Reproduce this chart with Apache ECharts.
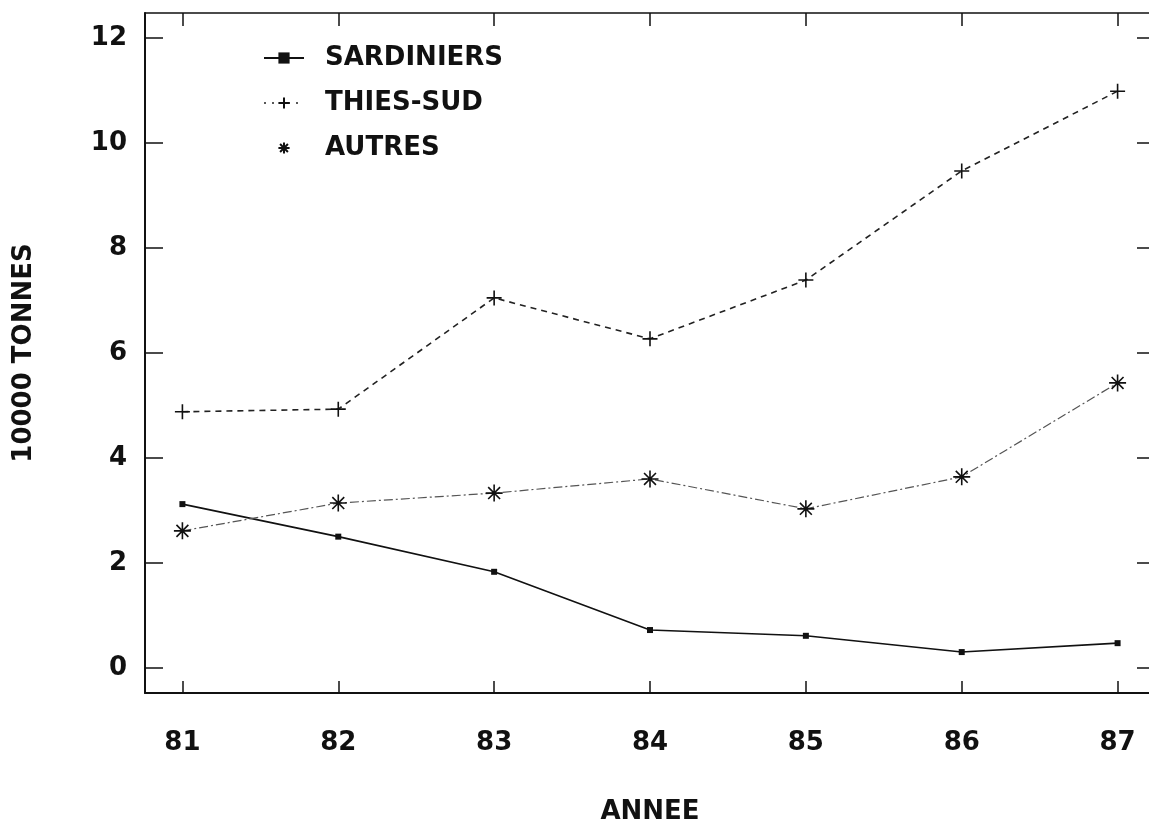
<!DOCTYPE html>
<html>
<head>
<meta charset="utf-8">
<style>
  html, body { margin: 0; padding: 0; background: #fff; }
  #chart { width: 1149px; height: 825px; }
</style>
<script src="https://cdn.jsdelivr.net/npm/echarts@6/dist/echarts.min.js"></script>
</head>
<body>
<div id="chart"></div>
<script>
// years (x axis) and series values, in 10000 tonnes
var years = [81, 82, 83, 84, 85, 86, 87]
var sardiniers = [3.12, 2.50, 1.83, 0.72, 0.61, 0.30, 0.47]
var thiesSud = [4.88, 4.93, 7.05, 6.27, 7.39, 9.47, 10.99]
var autres = [2.61, 3.14, 3.33, 3.60, 3.03, 3.64, 5.43]
var yTicks = [0, 2, 4, 6, 8, 10, 12]

var font = 'DejaVu Sans'
var plusPath = 'path://M10,0L10,20M0,10L20,10'
var starPath = 'path://M10,0L10,20M0,10L20,10M3,3L17,17M17,3L3,17'

function pairs(vals) {
  return years.map(function (y, i) { return [y, vals[i]] })
}

var chart = echarts.init(document.getElementById('chart'))

var baseText = { fontFamily: font, fontWeight: 'bold', fontSize: 26, color: '#111' }

chart.setOption({
  backgroundColor: '#fff',
  animation: false,
  grid: { left: 145, top: 13, right: -6, bottom: 132, outerBoundsMode: 'none', containLabel: false },
  legend: {
    orient: 'vertical',
    left: 258,
    top: 40,
    itemWidth: 40,
    itemHeight: 14,
    itemGap: 19,
    textStyle: Object.assign({ padding: [0, 0, 0, 16], lineHeight: 26 }, baseText),
    data: [
      { name: 'SARDINIERS' },
      { name: 'THIES-SUD', lineStyle: { type: [2, 6], width: 1.5 } },
      { name: 'AUTRES', lineStyle: { opacity: 0 } }
    ]
  },
  xAxis: [
    {
      type: 'value',
      min: 80.76,
      max: 87.24,
      name: 'ANNEE',
      nameLocation: 'middle',
      nameGap: 106,
      nameTextStyle: baseText,
      axisLine: { show: true, onZero: false, lineStyle: { color: '#111', width: 2 } },
      axisTick: { show: true, inside: true, length: 12, customValues: years, lineStyle: { color: '#111', width: 1.5 } },
      axisLabel: Object.assign({ margin: 37, customValues: years }, baseText),
      splitLine: { show: false }
    },
    {
      type: 'value',
      position: 'top',
      min: 80.76,
      max: 87.24,
      axisLine: { show: true, onZero: false, lineStyle: { color: '#111', width: 1.5 } },
      axisTick: { show: true, inside: true, length: 13, customValues: years, lineStyle: { color: '#111', width: 1.5 } },
      axisLabel: { show: false },
      splitLine: { show: false }
    }
  ],
  yAxis: [
    {
      type: 'value',
      min: -0.48,
      max: 12.48,
      name: '10000 TONNES',
      nameLocation: 'middle',
      nameGap: 108,
      nameRotate: 90,
      nameTextStyle: baseText,
      axisLine: { show: true, onZero: false, lineStyle: { color: '#111', width: 2 } },
      axisTick: { show: true, inside: true, length: 18, customValues: yTicks, lineStyle: { color: '#111', width: 1.5 } },
      axisLabel: Object.assign({ margin: 18, customValues: yTicks }, baseText),
      splitLine: { show: false }
    },
    {
      type: 'value',
      position: 'right',
      min: -0.48,
      max: 12.48,
      axisLine: { show: true, onZero: false, lineStyle: { color: '#111', width: 1.5 } },
      axisTick: { show: true, inside: true, length: 18, customValues: yTicks, lineStyle: { color: '#111', width: 1.5 } },
      axisLabel: { show: false },
      splitLine: { show: false }
    }
  ],
  series: [
    {
      name: 'SARDINIERS',
      type: 'line',
      data: pairs(sardiniers),
      symbol: 'rect',
      symbolSize: 6,
      itemStyle: { color: '#111' },
      lineStyle: { color: '#111', width: 1.6 }
    },
    {
      name: 'THIES-SUD',
      type: 'line',
      data: pairs(thiesSud),
      symbol: plusPath,
      symbolSize: 15,
      itemStyle: { color: 'rgba(0,0,0,0)', borderColor: '#111', borderWidth: 1.6 },
      lineStyle: { color: '#222', width: 1.6, type: [6, 5] }
    },
    {
      name: 'AUTRES',
      type: 'line',
      data: pairs(autres),
      symbol: starPath,
      symbolSize: 17,
      itemStyle: { color: 'rgba(0,0,0,0)', borderColor: '#111', borderWidth: 1.6 },
      lineStyle: { color: '#555', width: 1.2, type: [9, 3, 2, 3] }
    }
  ]
})
</script>
</body>
</html>
